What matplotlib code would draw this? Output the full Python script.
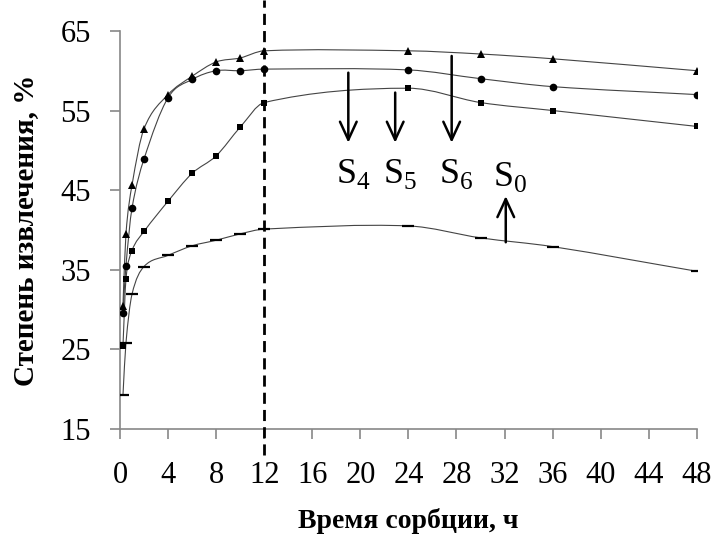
import numpy as np
import matplotlib
matplotlib.use("Agg")
import matplotlib.pyplot as plt
from matplotlib.path import Path
from matplotlib.patches import PathPatch

plt.rcParams['font.family'] = ['Liberation Serif', 'DejaVu Serif']
plt.rcParams['mathtext.fontset'] = 'custom'
plt.rcParams['mathtext.rm'] = 'Liberation Serif'

# time of sorption, h
t = [0.25, 0.5, 1, 2, 4, 6, 8, 10, 12, 24, 30, 36, 48]

# extraction degree, %
s6 = [30.5, 39.5, 45.6, 52.7, 57.0, 59.3, 61.1, 61.6, 62.5, 62.5, 62.1, 61.5, 60.0]   # triangles
s4 = [29.6, 35.5, 42.7, 48.9, 56.6, 58.9, 60.0, 60.0, 60.2, 60.1, 59.0, 58.0, 57.0]   # circles
s5 = [25.4, 33.8, 37.4, 39.8, 43.6, 47.1, 49.3, 52.9, 56.0, 57.8, 56.0, 55.0, 53.0]   # squares
s0 = [19.2, 25.8, 31.9, 35.4, 36.8, 38.0, 38.7, 39.5, 40.1, 40.5, 39.0, 37.9, 34.8]   # dashes

x_ticks = list(range(0, 49, 4))
y_ticks = [15, 25, 35, 45, 55, 65]

# arrow annotations: label, x, y of tail, y of head
arrows = [(r"$\mathrm{S}_\mathrm{4}$", 19.0, 60.1, 50.6),
          (r"$\mathrm{S}_\mathrm{5}$", 22.9, 57.6, 50.6),
          (r"$\mathrm{S}_\mathrm{6}$", 27.6, 62.2, 50.6)]


def smooth_path(x, y):
    # cubic Hermite / Bezier path through the points
    px = np.asarray(x, float)
    py = np.asarray(y, float)
    n = len(px)
    m = np.zeros(n)
    m[0] = (py[1] - py[0]) / (px[1] - px[0])
    m[-1] = (py[-1] - py[-2]) / (px[-1] - px[-2])
    for i in range(1, n - 1):
        m[i] = (py[i + 1] - py[i - 1]) / (px[i + 1] - px[i - 1])
    verts = [(px[0], py[0])]
    codes = [Path.MOVETO]
    for i in range(n - 1):
        dx = px[i + 1] - px[i]
        c1 = (px[i] + dx / 3, py[i] + m[i] * dx / 3)
        c2 = (px[i + 1] - dx / 3, py[i + 1] - m[i + 1] * dx / 3)
        verts += [c1, c2, (px[i + 1], py[i + 1])]
        codes += [Path.CURVE4] * 3
    return Path(verts, codes)


fig = plt.figure(figsize=(7.14, 5.52), dpi=100)
ax = fig.add_axes([0.168, 0.223, 0.808, 0.721])

line_col = "#444444"
for ys, mk, ms, mew in [(s6, "^", 6, 0), (s4, "o", 5.5, 0), (s5, "s", 5, 0), (s0, "_", 8, 1.6)]:
    ax.add_patch(PathPatch(smooth_path(t, ys), facecolor="none", edgecolor=line_col, lw=0.8))
    ax.plot(t, ys, linestyle="none", marker=mk, markersize=ms, color="black",
            markeredgewidth=mew, zorder=3)

# vertical dashed line at 12 h
ax.plot([12, 12], [11.7, 68.9], color="black", lw=2, linestyle=(0, (4, 2.2)), clip_on=False, zorder=4)

astyle = dict(arrowstyle="->,head_width=0.6,head_length=1.3", color="black", lw=1.8)
for lab, xa, y0, y1 in arrows:
    ax.annotate("", xy=(xa, y1), xytext=(xa, y0), arrowprops=astyle)
    ax.text(xa + 0.4, 47.0, lab, fontsize=26, ha="center", va="center")

ax.annotate("", xy=(32.1, 44.6), xytext=(32.1, 38.1), arrowprops=astyle)
ax.text(32.5, 46.6, r"$\mathrm{S}_\mathrm{0}$", fontsize=26, ha="center", va="center")

ax.set_xlim(0, 48)
ax.set_ylim(15, 65)
ax.set_xticks(x_ticks)
ax.set_yticks(y_ticks)
ax.tick_params(axis="both", labelsize=22, color="#888888", length=7, width=1.2)
ax.tick_params(axis="x", pad=16)
ax.tick_params(axis="y", pad=14)
for side in ["top", "right"]:
    ax.spines[side].set_visible(False)
for side in ["left", "bottom"]:
    ax.spines[side].set_color("#888888")
    ax.spines[side].set_linewidth(1.2)

ax.set_xlabel("Время сорбции, ч", fontsize=20, fontweight="bold", labelpad=13)
ax.set_ylabel("Степень извлечения, %", fontsize=21, fontweight="bold", labelpad=15)

fig.savefig("out.png", dpi=100)
